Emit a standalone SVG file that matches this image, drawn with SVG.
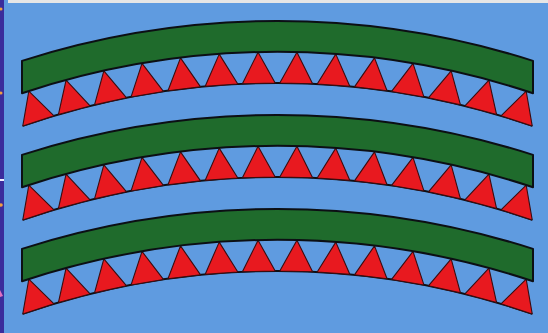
<svg xmlns="http://www.w3.org/2000/svg" xmlns:xlink="http://www.w3.org/1999/xlink" width="548" height="333" viewBox="0 0 548 333">
  <style>
    .band { fill: #1f6b2c; stroke: #0c0f14; stroke-width: 2; stroke-linejoin: round; }
    .tri { fill: #e8191f; stroke: #3a0c10; stroke-width: 1.1; stroke-linejoin: round; }
    .base { fill: none; stroke: #0c0f14; stroke-width: 2; }
  </style>
  <defs>
    <polygon id="tri" class="tri" points="277.5,52 293.9,83.2 261.1,83.2"/>
    <g id="row">
      <path class="base" d="M22.8,125.9 A777,777 0 0 1 532.2,125.9"/>
      <use xlink:href="#tri" href="#tri" transform="rotate(-17.927 277.5 860)"/>
      <use xlink:href="#tri" href="#tri" transform="rotate(-15.169 277.5 860)"/>
      <use xlink:href="#tri" href="#tri" transform="rotate(-12.411 277.5 860)"/>
      <use xlink:href="#tri" href="#tri" transform="rotate(-9.653 277.5 860)"/>
      <use xlink:href="#tri" href="#tri" transform="rotate(-6.895 277.5 860)"/>
      <use xlink:href="#tri" href="#tri" transform="rotate(-4.137 277.5 860)"/>
      <use xlink:href="#tri" href="#tri" transform="rotate(-1.379 277.5 860)"/>
      <use xlink:href="#tri" href="#tri" transform="rotate(1.379 277.5 860)"/>
      <use xlink:href="#tri" href="#tri" transform="rotate(4.137 277.5 860)"/>
      <use xlink:href="#tri" href="#tri" transform="rotate(6.895 277.5 860)"/>
      <use xlink:href="#tri" href="#tri" transform="rotate(9.653 277.5 860)"/>
      <use xlink:href="#tri" href="#tri" transform="rotate(12.411 277.5 860)"/>
      <use xlink:href="#tri" href="#tri" transform="rotate(15.169 277.5 860)"/>
      <use xlink:href="#tri" href="#tri" transform="rotate(17.927 277.5 860)"/>
      <path class="band" d="M22,60.9 A839,839 0 0 1 533,60.9 L533,93.3 A808,808 0 0 0 22,93.3 Z"/>
    </g>
  </defs>
  <rect x="0" y="0" width="548" height="333" fill="#5f9be0"/>
  <rect x="8" y="0" width="540" height="3" fill="#e6e6e6"/>
  <rect x="0" y="0" width="4" height="333" fill="#3a2c9c"/>
  <circle cx="1" cy="9" r="1.5" fill="#f0a040"/>
  <circle cx="1" cy="93" r="1.5" fill="#f0a040"/>
  <rect x="0" y="179" width="4" height="2" fill="#f4f0ff"/>
  <circle cx="1" cy="205" r="1.8" fill="#f0a040"/>
  <polygon points="0,290 3,296 0,297" fill="#e070c0"/>
  <g id="arch1"><use xlink:href="#row" href="#row"/></g>
  <g id="arch2" transform="translate(0,94)"><use xlink:href="#row" href="#row"/></g>
  <g id="arch3" transform="translate(0,188)"><use xlink:href="#row" href="#row"/></g>
</svg>
